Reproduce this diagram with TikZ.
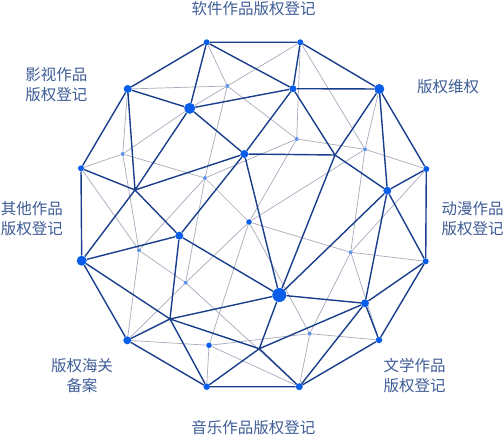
\documentclass[tikz,border=0pt]{standalone}
\usepackage{fontspec}
\newfontfamily\cjk{Noto Sans CJK SC}
\definecolor{navy}{RGB}{24,62,140}
\definecolor{dotblue}{RGB}{8,94,232}
\definecolor{thin}{RGB}{168,170,188}
\definecolor{lightdot}{RGB}{98,148,230}
\definecolor{lab}{RGB}{62,92,150}
\pgfdeclarelayer{bg}
\pgfsetlayers{bg,main}
\begin{document}
\begin{tikzpicture}[x=1pt,y=-1pt,
  dot/.style={circle,fill=dotblue,inner sep=0pt,minimum size=#1},
  ldot/.style={circle,fill=lightdot,inner sep=0pt,minimum size=4pt},
  heavy/.style={draw=navy,line width=1.4pt,line join=round},
  faint/.style={draw=thin,line width=0.7pt},
  lbl/.style={font=\cjk\fontsize{15.5}{19.3}\selectfont,text=lab,align=center,inner sep=0pt}]
\useasboundingbox (0,0) rectangle (504,436);
% outer ring
\node[dot=6pt]  (O1)  at (206.7,42.3) {};
\node[dot=6pt]  (O2)  at (300.3,42.3) {};
\node[dot=10pt] (O3)  at (379.3,89) {};
\node[dot=6pt]  (O4)  at (426.3,169) {};
\node[dot=6pt]  (O5)  at (425.7,261.3) {};
\node[dot=6.5pt](O6)  at (379,340) {};
\node[dot=7pt]  (O7)  at (299.3,386.7) {};
\node[dot=6.5pt](O8)  at (206.7,386.7) {};
\node[dot=8pt]  (O9)  at (127.3,340.3) {};
\node[dot=10pt] (O10) at (81.7,260.7) {};
\node[dot=6pt]  (O11) at (81,168.3) {};
\node[dot=8pt]  (O12) at (127.7,89) {};
% inner dark nodes
\node[dot=7pt]  (A) at (293,88.7) {};
\node[dot=11pt] (B) at (189.7,108.3) {};
\node[dot=8pt]  (C) at (244.3,154) {};
\node[dot=8pt]  (D) at (387.3,190.7) {};
\node[dot=8pt]  (E) at (179.3,235.7) {};
\node[dot=14pt] (F) at (279.3,295) {};
\node[dot=8pt]  (G) at (365,303.3) {};
% light nodes
\node[ldot] (L1)  at (227.3,86) {};
\node[ldot] (L2)  at (296.7,139) {};
\node[ldot] (L3)  at (365,149.3) {};
\node[ldot] (L4)  at (122.7,154) {};
\node[ldot] (L5)  at (205,178) {};
\node[dot=5.5pt] (L6) at (249,222) {};
\node[ldot] (L7)  at (139,250.3) {};
\node[ldot] (L8)  at (185.7,282.7) {};
\node[ldot] (L9)  at (350.7,252.3) {};
\node[dot=5.5pt] (L10) at (209,345.3) {};
\node[ldot] (L11) at (309.7,333.7) {};
% junctions
\coordinate (J1) at (135,190);
\coordinate (J2) at (335,155);
\coordinate (J3) at (170,319);
\coordinate (J4) at (259.3,348.7);
\begin{pgfonlayer}{bg}
% thin grey links
\draw[faint] (O12)--(L1) (O1)--(L1) (O2)--(L1) (L1)--(B) (L1)--(L2) (O2)--(L2)
  (L2)--(L3) (O2)--(L3) (O3)--(L3) (L3)--(O4) (L3)--(L9) (L3)--(L6) (L2)--(L6)
  (L5)--(L2) (L1)--(L5) (L5)--(L8) (L4)--(L5) (L5)--(L6) (L5)--(L7)
  (O12)--(L4) (B)--(L4) (O11)--(L4) (L4)--(L7) (O11)--(L7) (L7)--(O9)
  (L7)--(L8) (L8)--(O9) (L8)--(L6) (L8)--(O7) (L6)--(L9) (L6)--(L10) (L6)--(L11)
  (O4)--(L9) (O5)--(L9) (L9)--(O6) (L9)--(L11) (O9)--(L10) (L10)--(O8)
  (L10)--(L11) (L10)--(O7) (L11)--(O6) (L11)--(O7);
% dark links
\draw[heavy] (O1)--(O2)--(O3)--(O4)--(O5)--(O6)--(O7)--(O8)--(O9)--(O10)--(O11)--(O12)--(O1);
\draw[heavy] (O1)--(A) (O1)--(B) (O2)--(A) (O3)--(A) (O3)--(J2) (O3)--(D)
  (O12)--(B) (O12)--(J1) (O11)--(J1) (O10)--(J1) (O10)--(E) (O10)--(J3)
  (O9)--(J3) (O8)--(J3) (O8)--(J4) (O7)--(J4) (O7)--(G) (O6)--(G)
  (O5)--(D) (O5)--(G) (O4)--(D)
  (A)--(B) (A)--(C) (A)--(J2) (B)--(C) (B)--(J1) (C)--(J1) (C)--(J2) (C)--(E) (C)--(F)
  (J1)--(E) (J2)--(D) (J2)--(F) (D)--(F) (D)--(G) (E)--(F) (E)--(J3)
  (F)--(G) (F)--(J3) (F)--(J4) (J3)--(J4) (J4)--(G);
\end{pgfonlayer}
% labels
\node[lbl] (t1) at (253.7,9) {软件作品版权登记};
\node[lbl] (t2) at (56.3,84.7) {影视作品\\版权登记};
\node[lbl] (t3) at (448,86.7) {版权维权};
\node[lbl] (t4) at (32,218.7) {其他作品\\版权登记};
\node[lbl] (t5) at (472.5,218.7) {动漫作品\\版权登记};
\node[lbl] (t6) at (82,375.5) {版权海关\\备案};
\node[lbl] (t7) at (414.5,375.5) {文学作品\\版权登记};
\node[lbl] (t8) at (253.3,427.5) {音乐作品版权登记};
\end{tikzpicture}
\end{document}
